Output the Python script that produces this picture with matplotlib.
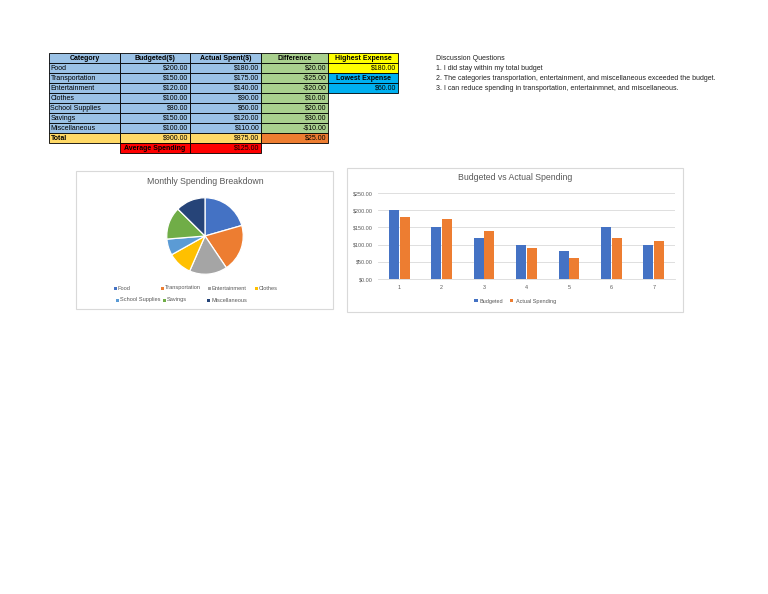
import numpy as np
import matplotlib
matplotlib.use('Agg')
import matplotlib.pyplot as plt
from matplotlib.patches import Rectangle

# --- data read from the sheet ---
categories = ["Food", "Transportation", "Entertainment", "Clothes",
              "School Supplies", "Savings", "Miscellaneous"]
budgeted = [200, 150, 120, 100, 80, 150, 100]
actual = [180, 175, 140, 90, 60, 120, 110]
difference = [20, -25, -20, 10, 20, 30, -10]
total_budgeted = 900
total_actual = 875
total_difference = 25
average_spending = 125
highest_expense = 180
lowest_expense = 60
questions = ["Discussion Questions",
             "1. I did stay within my total budget",
             "2. The categories transportation, entertainment, and miscellaneous exceeded the budget.",
             "3. I can reduce spending in transportation, entertainmnet, and miscellaneous."]
bar_labels = ["1", "2", "3", "4", "5", "6", "7"]
y_ticks = [0, 50, 100, 150, 200, 250]

W, H = 768, 594
plt.rcParams['font.family'] = ['Liberation Sans', 'DejaVu Sans']
fig = plt.figure(figsize=(W / 100, H / 100), dpi=100)

def px_axes(x0, y0, x1, y1):
    # axes from pixel box (top-left origin)
    return fig.add_axes([x0 / W, 1 - y1 / H, (x1 - x0) / W, (y1 - y0) / H])

def money(v):
    return f"-${abs(v):.2f}" if v < 0 else f"${v:.2f}"

# --- sheet layer ---
sheet = fig.add_axes([0, 0, 1, 1])
sheet.set_xlim(0, W)
sheet.set_ylim(H, 0)
sheet.axis('off')

cols = [49, 120, 190, 261, 328, 398]
row_top, row_h = 53, 10
fs = 5.0
blue, green, gold = '#9BC2E6', '#A9D08E', '#FFD966'

def cell(c, r, txt, color, ha='right', bold=False, tcolor='black'):
    x0, x1 = cols[c], cols[c + 1]
    y0 = row_top + r * row_h
    sheet.add_patch(Rectangle((x0, y0), x1 - x0, row_h, facecolor=color,
                              edgecolor='black', linewidth=0.6))
    tx = {'left': x0 + 1.5, 'right': x1 - 1.5, 'center': (x0 + x1) / 2}[ha]
    sheet.text(tx, y0 + row_h / 2 + 0.3, txt, ha=ha, va='center', fontsize=fs,
               fontweight='bold' if bold else 'normal', color=tcolor)

cell(0, 0, "Category", blue, 'center', True)
cell(1, 0, "Budgeted($)", blue, 'center', True)
cell(2, 0, "Actual Spent($)", blue, 'center', True)
cell(3, 0, "Difference", green, 'center', True)
for i, name in enumerate(categories):
    cell(0, i + 1, name, blue, 'left')
    cell(1, i + 1, money(budgeted[i]), blue)
    cell(2, i + 1, money(actual[i]), blue)
    cell(3, i + 1, money(difference[i]), green)
n = len(categories) + 1
cell(0, n, "Total", gold, 'left', True)
cell(1, n, money(total_budgeted), gold)
cell(2, n, money(total_actual), gold)
cell(3, n, money(total_difference), '#ED7D31')
cell(1, n + 1, "Average Spending", '#FF0000', 'center', True)
cell(2, n + 1, money(average_spending), '#FF0000')
cell(4, 0, "Highest Expense", '#FFFF00', 'center', True)
cell(4, 1, money(highest_expense), '#FFFF00')
cell(4, 2, "Lowest Expense", '#00B0F0', 'center', True)
cell(4, 3, money(lowest_expense), '#00B0F0')

for i, q in enumerate(questions):
    sheet.text(436, 58 + i * 10.3, q, fontsize=fs, va='center', color='#222222')

# chart frames
for (x0, y0, x1, y1) in [(76, 171, 333, 309), (347, 168, 683, 312)]:
    sheet.add_patch(Rectangle((x0, y0), x1 - x0, y1 - y0, facecolor='white',
                              edgecolor='#D9D9D9', linewidth=0.8, zorder=0))

# --- pie chart ---
pie_colors = ['#4472C4', '#ED7D31', '#A5A5A5', '#FFC000', '#5B9BD5', '#70AD47', '#264478']
sheet.text(205, 182, "Monthly Spending Breakdown", ha='center', va='center',
           fontsize=6.3, color='#595959')
r = 39
pax = px_axes(205 - r, 236 - r, 205 + r, 236 + r)
pax.pie(actual, colors=pie_colors, startangle=90, counterclock=False,
        wedgeprops=dict(edgecolor='white', linewidth=0.9))
pax.set_xlim(-1.02, 1.02)
pax.set_ylim(-1.02, 1.02)
pax.set_aspect('equal')

leg_pos = [(115, 288), (162, 288), (209, 288), (256, 288),
           (117, 300), (164, 300), (208, 300)]
for (lx, ly), name, col in zip(leg_pos, categories, pie_colors):
    sheet.add_patch(Rectangle((lx - 1.5, ly - 1.5), 3, 3, facecolor=col, edgecolor='none'))
    sheet.text(lx + 3, ly, name, fontsize=4.1, va='center', color='#595959')

# --- bar chart ---
sheet.text(515, 178, "Budgeted vs Actual Spending", ha='center', va='center',
           fontsize=6.3, color='#595959')
bax = px_axes(378, 193, 675, 279)
x = np.arange(1, len(bar_labels) + 1)
bw = 0.235
bax.bar(x - bw / 2 - 0.01, budgeted, bw, color='#4472C4', label='Budgeted', zorder=3)
bax.bar(x + bw / 2 + 0.01, actual, bw, color='#ED7D31', label='Actual Spending', zorder=3)
bax.set_xlim(0.5, len(bar_labels) + 0.5)
bax.set_ylim(0, 250)
bax.set_yticks(y_ticks)
bax.set_yticklabels([f"${v:.2f}" for v in y_ticks])
bax.set_xticks(x)
bax.set_xticklabels(bar_labels)
bax.grid(axis='y', color='#D9D9D9', linewidth=0.6, zorder=0)
for s in ['top', 'right', 'left']:
    bax.spines[s].set_visible(False)
bax.spines['bottom'].set_color('#D9D9D9')
bax.spines['bottom'].set_linewidth(0.6)
bax.tick_params(length=0, labelsize=3.9, labelcolor='#595959', pad=4)
bax.legend(loc='center', bbox_to_anchor=(515 / W, 1 - 301 / H),
           bbox_transform=fig.transFigure, ncol=2, frameon=False,
           fontsize=4.0, handlelength=0.6, handleheight=0.6,
           handletextpad=0.4, columnspacing=1.2, labelcolor='#595959')

fig.savefig('out.png', dpi=100, facecolor='white')
